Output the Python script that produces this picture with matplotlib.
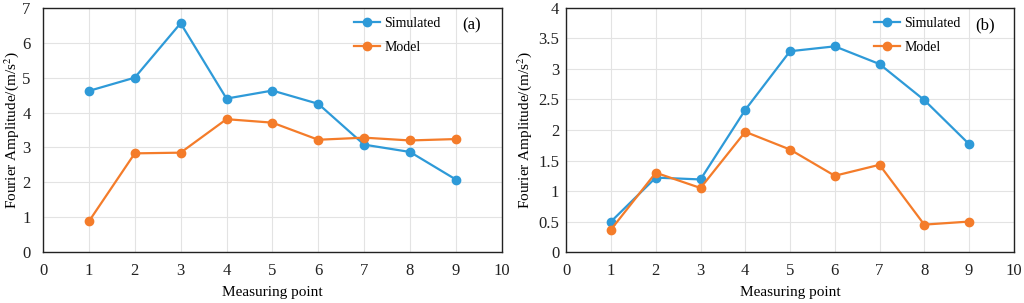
import matplotlib
matplotlib.use("Agg")
import matplotlib.pyplot as plt

plt.rcParams['font.family'] = ['Liberation Serif', 'DejaVu Serif']
plt.rcParams['mathtext.fontset'] = 'stix'

points = [1, 2, 3, 4, 5, 6, 7, 8, 9]
sim_a = [4.62, 5.0, 6.56, 4.4, 4.63, 4.25, 3.08, 2.87, 2.08]
model_a = [0.88, 2.83, 2.85, 3.81, 3.71, 3.22, 3.28, 3.2, 3.24]
sim_b = [0.5, 1.22, 1.19, 2.33, 3.29, 3.37, 3.08, 2.49, 1.77]
model_b = [0.37, 1.3, 1.05, 1.97, 1.68, 1.25, 1.43, 0.45, 0.5]

blue = '#2E9AD8'
orange = '#F47C2A'

fig = plt.figure(figsize=(10.24, 3.03), dpi=100)
ax1 = fig.add_axes([0.042, 0.168, 0.448, 0.806])
ax2 = fig.add_axes([0.553, 0.168, 0.437, 0.806])

def style(ax, sim, mod, ymax, ystep, yticklabels, tag, legx, ypad, ylpad):
    ax.plot(points, sim, '-o', color=blue, lw=1.6, ms=6, label='Simulated', zorder=3)
    ax.plot(points, mod, '-o', color=orange, lw=1.6, ms=6, label='Model', zorder=3)
    ax.set_xlim(0, 10)
    ax.set_ylim(0, ymax)
    ax.set_xticks(range(0, 11))
    yt = [i * ystep for i in range(len(yticklabels))]
    ax.set_yticks(yt)
    ax.set_yticklabels(yticklabels)
    ax.grid(True, color='#e3e3e3', lw=0.8, zorder=0)
    ax.set_axisbelow(True)
    ax.tick_params(labelsize=12, length=0, colors='#222222')
    ax.tick_params(axis='x', pad=8)
    ax.tick_params(axis='y', pad=ypad)
    for s in ax.spines.values():
        s.set_color('#222222')
        s.set_linewidth(1.0)
    ax.set_xlabel('Measuring point', fontsize=11, labelpad=5)
    ax.set_ylabel('Fourier Amplitude/(m/s$^2$)', fontsize=11, labelpad=ylpad)
    ax.legend(loc='upper left', bbox_to_anchor=(legx, 0.985), frameon=False,
              fontsize=10, handlelength=1.9, handletextpad=0.3, labelspacing=0.75,
              borderaxespad=0)
    ax.text(0.935, 0.93, tag, transform=ax.transAxes, fontsize=12, ha='center', va='center')

style(ax1, sim_a, model_a, 7, 1, ['0', '1', '2', '3', '4', '5', '6', '7'], '(a)', 0.665, 9, 1)
style(ax2, sim_b, model_b, 4, 0.5, ['0', '0.5', '1', '1.5', '2', '2.5', '3', '3.5', '4'], '(b)', 0.675, 5, 3)

fig.savefig('out.png', dpi=100)
